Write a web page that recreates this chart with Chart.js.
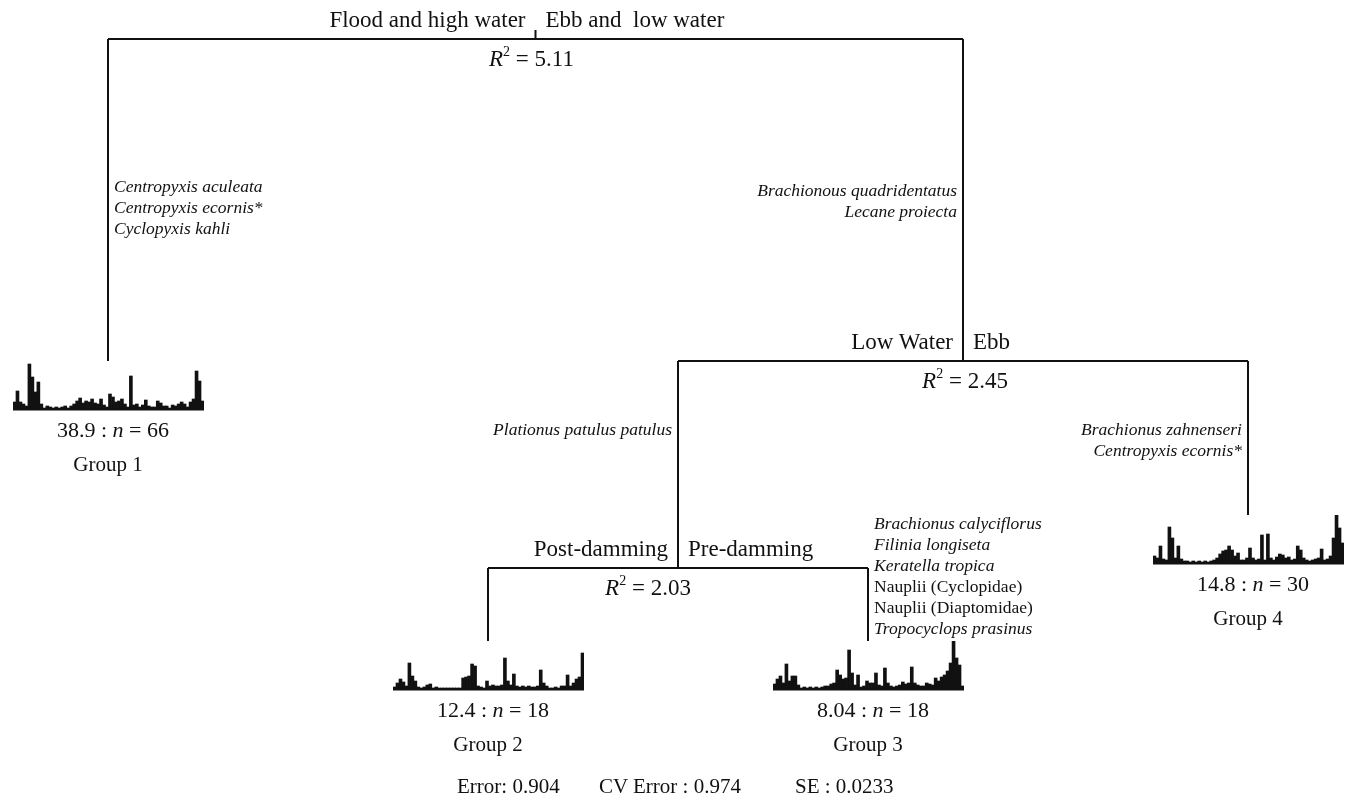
<!DOCTYPE html>
<html>
<head>
<meta charset="utf-8">
<title>Regression tree</title>
<script src="https://cdn.jsdelivr.net/npm/chart.js@4.4.1/dist/chart.umd.min.js"></script>
<style>
  html, body { margin:0; padding:0; background:#fff; }
  #page { position:relative; width:1349px; height:803px; overflow:hidden;
          font-family:"Liberation Serif","Times New Roman",serif; color:#111; }
  #tree { position:absolute; left:0; top:0; }
  .hist { position:absolute; }
  .t { position:absolute; white-space:pre; line-height:1; }
  .split { font-size:23px; }
  .r2 { font-size:23px; }
  .r2 sup { font-size:14px; line-height:0; vertical-align:10px; }
  .sp { font-size:17.5px; font-style:italic; }
  .sp.up { font-style:normal; }
  .stat { font-size:22px; }
  .grp { font-size:21px; }
  .foot { font-size:21px; }
</style>
</head>
<body>
<div id="page">
  <canvas id="tree" width="1349" height="803"></canvas>
</div>
<script>
// ── Data ──

// split labels: left branch | right branch, and R² of each split
const SPLIT_LEFT  = ['Flood and high water', 'Low Water', 'Post-damming'];
const SPLIT_RIGHT = ['Ebb and  low water', 'Ebb', 'Pre-damming'];
const SPLIT_R2    = ['5.11', '2.45', '2.03'];

// leaves
const GROUP_NAMES = ['Group 1', 'Group 2', 'Group 3', 'Group 4'];
const GROUP_ERR   = ['38.9', '12.4', '8.04', '14.8'];
const GROUP_N     = [66, 18, 18, 30];

// species profile of each group (bar heights, same species order in every group)
const G1_BARS = [7,18,7,5,3,45,32,17,27,5,1,3,2,1,2,1,2,3,1,3,5,8,11,6,8,7,10,6,5,10,4,2,
                 15,12,7,8,10,5,2,33,4,5,2,4,9,3,2,2,8,6,3,3,1,4,3,5,7,5,2,7,10,38,28,8];
const G2_BARS = [2,6,10,7,3,26,13,8,2,1,2,4,5,1,2,1,1,1,1,1,1,1,1,11,12,13,25,23,3,2,1,8,
                 3,4,3,3,4,31,8,4,15,3,2,3,2,3,2,2,3,19,6,3,1,1,2,1,3,3,14,3,6,10,12,36];
const G3_BARS = [5,10,13,6,25,8,13,13,4,1,2,1,2,1,2,1,2,3,3,5,6,19,14,10,11,39,16,4,14,2,3,8,
                 6,6,16,4,3,21,6,3,2,3,4,7,5,6,22,6,4,3,3,6,5,4,11,8,12,14,18,26,48,31,24,3];
const G4_BARS = [7,5,17,4,3,36,25,5,17,4,2,2,1,2,1,2,1,2,1,2,3,5,9,12,13,17,13,7,10,3,3,5,
                 15,5,3,4,28,3,29,5,3,6,9,8,5,6,3,4,17,13,5,3,2,3,4,5,14,3,4,7,25,48,35,20];

// indicator species along each branch
const SP_G1    = ['Centropyxis aculeata', 'Centropyxis ecornis*', 'Cyclopyxis kahli'];
const SP_EBB   = ['Brachionous quadridentatus', 'Lecane proiecta'];
const SP_LOW   = ['Plationus patulus patulus'];
const SP_G4    = ['Brachionus zahnenseri', 'Centropyxis ecornis*'];
const SP_G3    = ['Brachionus calyciflorus', 'Filinia longiseta', 'Keratella tropica',
                  'Nauplii (Cyclopidae)', 'Nauplii (Diaptomidae)', 'Tropocyclops prasinus'];
const NOT_ITALIC = ['Nauplii (Cyclopidae)', 'Nauplii (Diaptomidae)'];

// model error line
const FOOT_LABELS = ['Error: ', 'CV Error : ', 'SE : '];
const FOOT_VALUES = ['0.904', '0.974', '0.0233'];

// tree structure
const TREE = {
  split:0,
  left:{ leaf:0, species:SP_G1, spSide:'right', spY:187 },
  right:{
    split:1, species:SP_EBB, spSide:'left', spY:191,
    left:{
      split:2, species:SP_LOW, spSide:'left', spY:430,
      left:{ leaf:1 },
      right:{ leaf:2, species:SP_G3, spSide:'right', spY:524 }
    },
    right:{ leaf:3, species:SP_G4, spSide:'left', spY:430 }
  }
};
const LEAF_BARS = [G1_BARS, G2_BARS, G3_BARS, G4_BARS];

// ── Layout (figure pixels) ──
const LEAF_X0 = 108, LEAF_DX = 380;
const SPLIT_Y = [39, 361, 568];
const LEAF_END_Y = [361, 641, 641, 515];
const ROOT_TICK = 9;
const R2_DX = [-4, 2, -30];
const HIST_W = 191, HIST_H = 50, HIST_MAX = 48;
const SP_STEP = 21;
const FOOT_X = [457, 599, 795], FOOT_Y = 786;

const page = document.getElementById('page');

function addText(html, x, y, align, cls) {
  const el = document.createElement('div');
  el.className = 't ' + cls;
  el.innerHTML = html;
  el.style.left = x + 'px';
  el.style.top = y + 'px';
  const tx = align === 'center' ? '-50%' : align === 'right' ? '-100%' : '0';
  el.style.transform = 'translate(' + tx + ',-50%)';
  page.appendChild(el);
  return el;
}

// ── Layout the tree (leaves evenly spaced, splits centred over children) ──
function layoutNode(n) {
  if (n.leaf !== undefined) {
    n.x = LEAF_X0 + n.leaf * LEAF_DX;
    n.y = LEAF_END_Y[n.leaf];
    return;
  }
  layoutNode(n.left); layoutNode(n.right);
  n.x = (n.left.x + n.right.x) / 2;
  n.y = SPLIT_Y[n.split];
}
layoutNode(TREE);

const segments = [];
const leaves = [];
function collect(n, isRoot) {
  // species written along the branch coming into this node
  if (n.species) {
    n.species.forEach((s, i) => {
      const right = n.spSide === 'right';
      addText(s, right ? n.x + 6 : n.x - 6, n.spY + i * SP_STEP, right ? 'left' : 'right',
              'sp' + (NOT_ITALIC.includes(s) ? ' up' : ''));
    });
  }
  if (n.leaf !== undefined) { leaves.push(n); return; }
  if (isRoot) segments.push([{x:n.x, y:n.y - ROOT_TICK}, {x:n.x, y:n.y}]);
  segments.push([{x:n.left.x, y:n.y}, {x:n.right.x, y:n.y}]);
  [n.left, n.right].forEach(c => {
    segments.push([{x:c.x, y:n.y}, {x:c.x, y:c.y}]);
    collect(c, false);
  });
  addText(SPLIT_LEFT[n.split], n.x - 10, n.y - 20, 'right', 'split');
  addText(SPLIT_RIGHT[n.split], n.x + 10, n.y - 20, 'left', 'split');
  addText('<i>R</i><sup>2</sup> = ' + SPLIT_R2[n.split], n.x + R2_DX[n.split], n.y + 19, 'center', 'r2');
}
collect(TREE, true);

// ── Tree branches ──
new Chart(document.getElementById('tree'), {
  type:'scatter',
  data:{ datasets: segments.map(s => ({
    data:s, showLine:true, borderColor:'#111', borderWidth:2, pointRadius:0, fill:false
  })) },
  options:{
    responsive:false, animation:false,
    layout:{ padding:0 },
    plugins:{ legend:{display:false}, tooltip:{enabled:false} },
    scales:{
      x:{ type:'linear', min:0, max:1349, display:false },
      y:{ type:'linear', min:0, max:803, reverse:true, display:false }
    }
  }
});

// ── Leaf species profiles ──
leaves.forEach(n => {
  const i = n.leaf;
  const bars = LEAF_BARS[i];
  const cv = document.createElement('canvas');
  cv.className = 'hist';
  cv.width = HIST_W; cv.height = HIST_H;
  cv.style.left = (n.x - HIST_W / 2) + 'px';
  cv.style.top = (n.y - (HIST_H - HIST_MAX - 2)) + 'px';
  page.appendChild(cv);
  new Chart(cv, {
    type:'bar',
    data:{ labels:bars.map((_, k) => k + 1), datasets:[{
      data:bars, backgroundColor:'#111', borderWidth:0,
      categoryPercentage:1, barPercentage:1
    }]},
    options:{
      responsive:false, animation:false,
      layout:{ padding:{ top:0, bottom:2, left:0, right:0 } },
      plugins:{ legend:{display:false}, tooltip:{enabled:false} },
      scales:{
        x:{ display:true, ticks:{display:false}, grid:{display:false, drawTicks:false},
            border:{display:true, color:'#111', width:2.5} },
        y:{ display:false, min:0, max:HIST_MAX }
      }
    }
  });
  const base = n.y + HIST_MAX;
  addText(GROUP_ERR[i] + ' : <i>n</i> = ' + GROUP_N[i], n.x + 5, base + 21, 'center', 'stat');
  addText(GROUP_NAMES[i], n.x, base + 55, 'center', 'grp');
});

// ── Footer ──
FOOT_LABELS.forEach((l, i) => addText(l + FOOT_VALUES[i], FOOT_X[i], FOOT_Y, 'left', 'foot'));
</script>
</body>
</html>
